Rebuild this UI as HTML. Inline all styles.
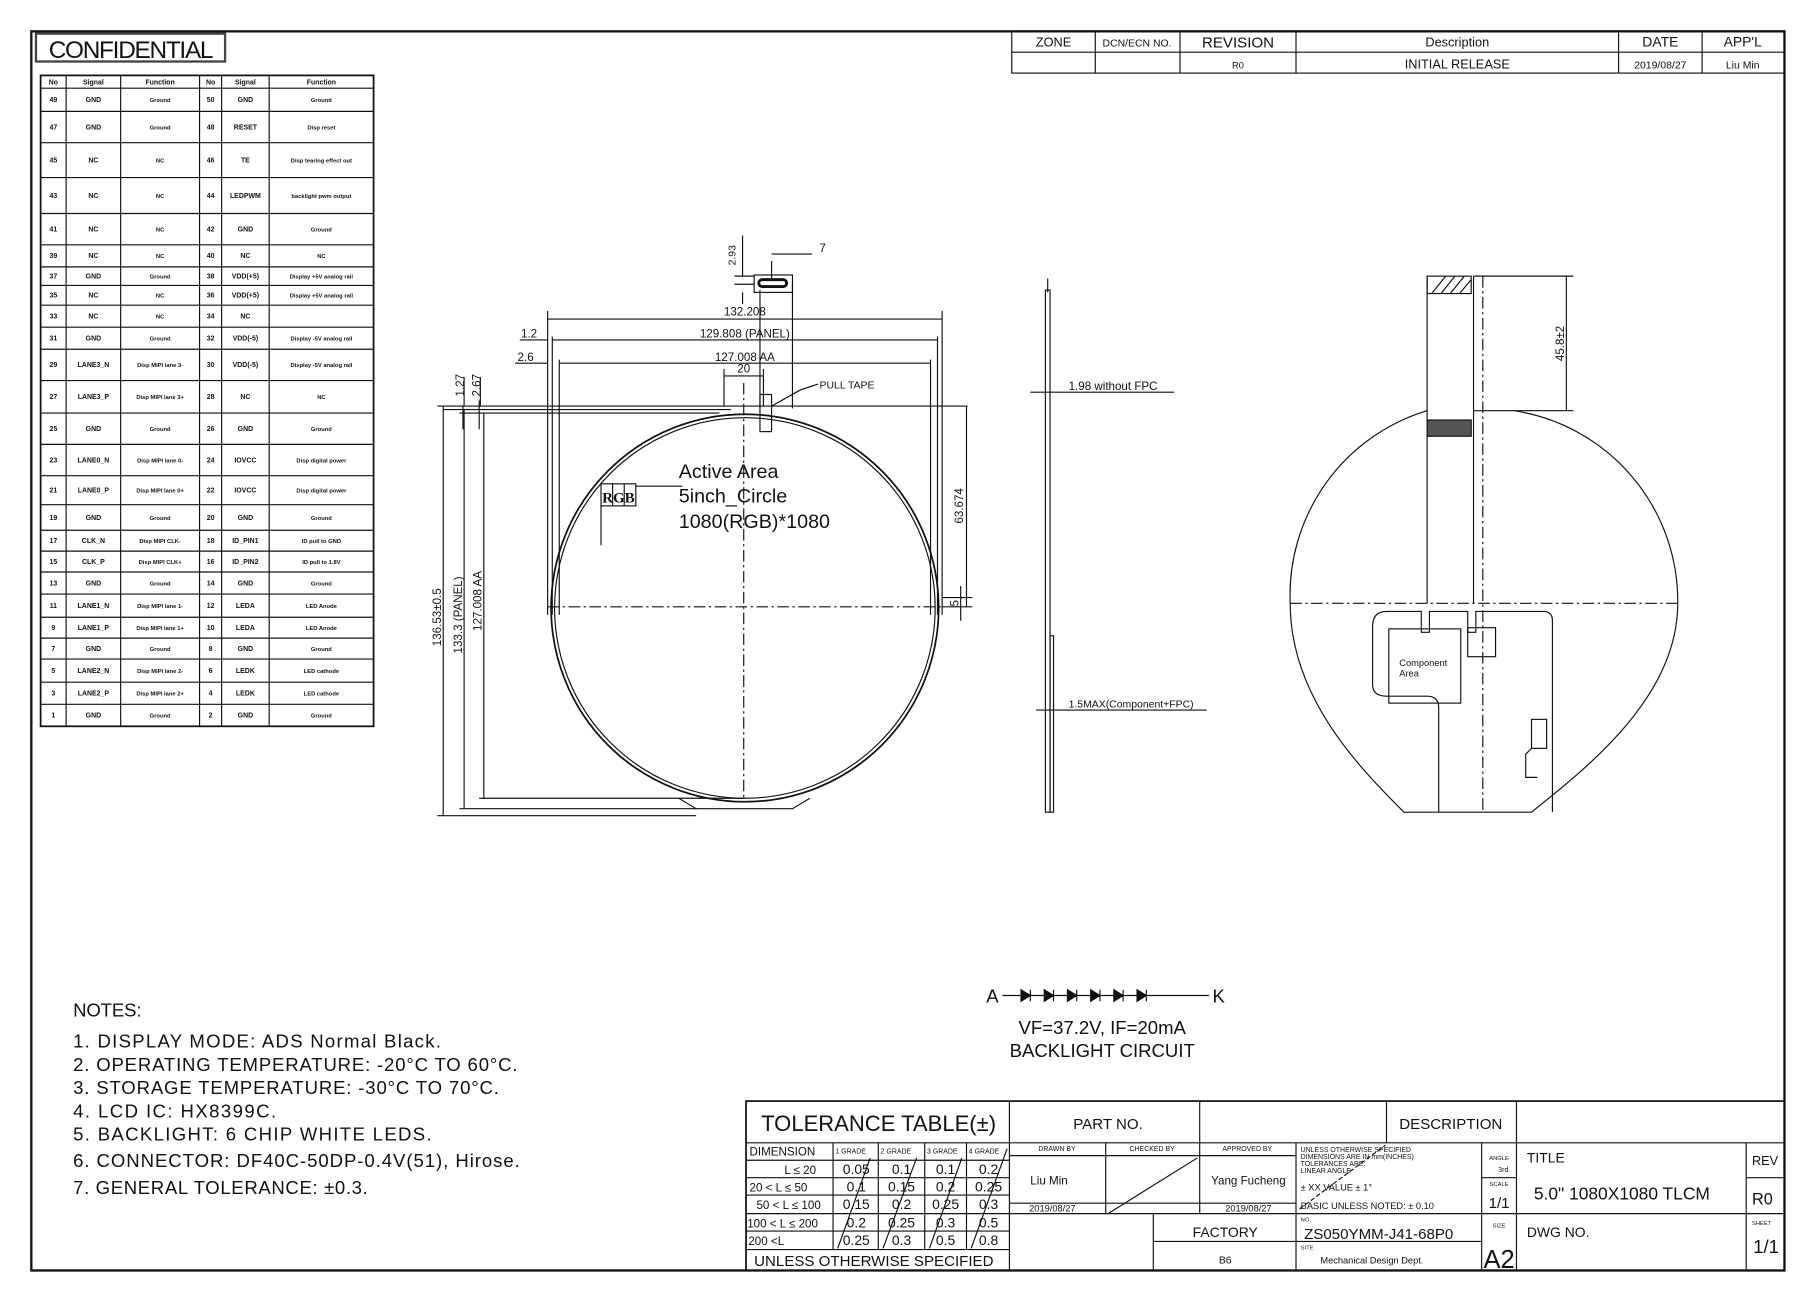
<!DOCTYPE html>
<html><head><meta charset="utf-8"><style>
html,body{margin:0;padding:0;background:#fff;width:1810px;height:1296px;overflow:hidden}
svg{display:block}
text{font-family:"Liberation Sans Narrow","Liberation Sans",sans-serif;fill:#111}
.b{font-weight:bold}
</style></head><body>
<svg id="s" width="1810" height="1296" viewBox="0 0 1560 1117" preserveAspectRatio="none" xmlns="http://www.w3.org/2000/svg">
<g fill="none" stroke="#111" stroke-width="1">
<rect x="27" y="27" width="1511" height="1068" stroke-width="2"/>
<rect x="31" y="29" width="163" height="24" stroke-width="2" stroke="#444"/>
<rect x="872" y="27" width="666" height="36"/>
<line x1="872" y1="45" x2="1538" y2="45"/>
<line x1="944" y1="27" x2="944" y2="63"/><line x1="1017" y1="27" x2="1017" y2="63"/>
<line x1="1117" y1="27" x2="1117" y2="63"/><line x1="1395" y1="27" x2="1395" y2="63"/>
<line x1="1467" y1="27" x2="1467" y2="63"/>
</g>
<g id="pins" stroke="#111" fill="none"></g>
<text x="42" y="50" font-size="21" textLength="142">CONFIDENTIAL</text>
<g font-size="11" text-anchor="middle">
<text x="908" y="40">ZONE</text><text x="980" y="40" font-size="9">DCN/ECN NO.</text><text x="1067" y="41" font-size="13" fill="#555">REVISION</text>
<text x="1256" y="40">Description</text><text x="1431" y="40" font-size="12">DATE</text><text x="1502" y="40" font-size="12" fill="#444">APP'L</text>
<text x="1067" y="59" font-size="8">R0</text><text x="1256" y="59">INITIAL RELEASE</text><text x="1431" y="59" font-size="9">2019/08/27</text><text x="1502" y="59" font-size="9">Liu Min</text>
</g>

<g fill="none" stroke="#111" stroke-width="1">
<circle cx="642" cy="524" r="167" stroke-width="1.5"/>
<circle cx="642" cy="524" r="164"/>
<path d="M585 688 L600 697 L683 697 L698 688"/>
<line x1="472" y1="268" x2="472" y2="530"/><line x1="812" y1="268" x2="812" y2="530"/>
<line x1="476" y1="290" x2="476" y2="530"/><line x1="808" y1="290" x2="808" y2="530"/>
<line x1="482" y1="310" x2="482" y2="530"/><line x1="802" y1="310" x2="802" y2="530"/>
<line x1="472" y1="275" x2="812" y2="275"/>
<line x1="476" y1="293" x2="808" y2="293"/>
<line x1="482" y1="313" x2="802" y2="313"/>
<line x1="448" y1="293" x2="472" y2="293"/><line x1="444" y1="313" x2="472" y2="313"/>
<line x1="624" y1="324" x2="658" y2="324"/><line x1="624" y1="318" x2="624" y2="350"/><line x1="658" y1="318" x2="658" y2="350"/>
<line x1="377" y1="350" x2="834" y2="350"/>
<line x1="382" y1="353" x2="630" y2="353"/>
<line x1="396" y1="356" x2="620" y2="356"/>
<line x1="399" y1="370" x2="399" y2="350" /><line x1="413" y1="370" x2="413" y2="345"/>
<line x1="400" y1="325" x2="400" y2="350"/><line x1="414" y1="325" x2="414" y2="350"/>
<line x1="382" y1="350" x2="382" y2="703"/>
<line x1="400" y1="353" x2="400" y2="697"/>
<line x1="417" y1="356" x2="417" y2="688"/>
<line x1="377" y1="703" x2="600" y2="703"/>
<line x1="396" y1="697" x2="600" y2="697"/>
<line x1="413" y1="688" x2="642" y2="688"/>
<line x1="833" y1="350" x2="833" y2="523"/>
<line x1="812" y1="523" x2="838" y2="523"/>
<line x1="812" y1="515" x2="838" y2="515"/>
<line x1="828" y1="505" x2="828" y2="535"/>
<line x1="472" y1="523" x2="812" y2="523" stroke-dasharray="10 3 2 3"/>
<line x1="641" y1="330" x2="641" y2="690" stroke-dasharray="10 3 2 3"/>
<rect x="655" y="340" width="10" height="32"/>
<path d="M665 350 L690 336 L705 331"/>
<line x1="655" y1="250" x2="655" y2="352"/><line x1="683" y1="245" x2="683" y2="352"/>
<rect x="650" y="237" width="33" height="15"/>
<rect x="654" y="241" width="24" height="6" rx="3" stroke-width="2.5"/>
<line x1="640" y1="203" x2="640" y2="238"/><line x1="640" y1="252" x2="640" y2="262"/>
<line x1="633" y1="238" x2="650" y2="238"/><line x1="633" y1="245" x2="650" y2="245"/>
<line x1="665" y1="225" x2="665" y2="240"/>
<line x1="665" y1="219" x2="700" y2="219"/>
<rect x="518" y="417" width="30" height="19"/>
<line x1="528" y1="417" x2="528" y2="436"/><line x1="538" y1="417" x2="538" y2="436"/>
<line x1="548" y1="419" x2="588" y2="419"/>
<line x1="518" y1="436" x2="518" y2="470"/>
</g>
<g font-size="10" text-anchor="middle">
<text x="642" y="272">132.208</text>
<text x="642" y="291">129.808 (PANEL)</text>
<text x="642" y="311">127.008 AA</text>
<text x="641" y="321">20</text>
<text x="456" y="291">1.2</text><text x="453" y="311">2.6</text>
<text x="709" y="217">7</text>
<text x="730" y="335" font-size="9">PULL TAPE</text>
<text transform="translate(634,220) rotate(-90)" font-size="9">2.93</text>
<text transform="translate(400,332) rotate(-90)">1.27</text>
<text transform="translate(414,332) rotate(-90)">2.67</text>
<text transform="translate(380,532) rotate(-90)">136.53±0.5</text>
<text transform="translate(398,530) rotate(-90)">133.3 (PANEL)</text>
<text transform="translate(415,518) rotate(-90)">127.008 AA</text>
<text transform="translate(830,436) rotate(-90)">63.674</text>
<text transform="translate(826,520) rotate(-90)">5</text>
</g>
<text x="533" y="433" font-size="13" text-anchor="middle" class="b" style="font-family:'Liberation Serif',serif">RGB</text>
<g font-size="17" fill="#333"><text x="585" y="412">Active Area</text><text x="585" y="433">5inch_Circle</text><text x="585" y="455">1080(RGB)*1080</text></g>

<g fill="none" stroke="#111">
<rect x="901" y="250" width="4" height="450"/>
<line x1="903" y1="240" x2="903" y2="252"/>
<rect x="905" y="548" width="3" height="152"/>
<line x1="888" y1="338" x2="1012" y2="338"/>
<line x1="893" y1="612" x2="1040" y2="612"/>
</g>
<text x="921" y="336" font-size="10">1.98 without FPC</text>
<text x="921" y="610" font-size="9">1.5MAX(Component+FPC)</text>

<g fill="none" stroke="#111">
<path d="M1230 354 A166 166 0 0 0 1112 520 C1112 600 1170 660 1210 700 L1320 700 C1370 660 1446 600 1446 520 A166 166 0 0 0 1305 354 L1270 354"/>
<line x1="1230" y1="238" x2="1230" y2="520"/><line x1="1270" y1="238" x2="1270" y2="520"/>
<rect x="1230" y="238" width="38" height="15"/>
<path d="M1234 253 L1246 238 M1242 253 L1254 238 M1250 253 L1262 238 M1258 253 L1268 241"/>
<rect x="1230" y="362" width="38" height="14" fill="#555"/>
<line x1="1270" y1="238" x2="1356" y2="238"/><line x1="1305" y1="354" x2="1356" y2="354"/>
<line x1="1350" y1="238" x2="1350" y2="354"/>
<line x1="1112" y1="520" x2="1446" y2="520" stroke-dasharray="10 3 2 3"/>
<line x1="1278" y1="238" x2="1278" y2="700" stroke-dasharray="10 3 2 3"/>
<path d="M1195 527 L1225 527 L1225 545 L1232 545 L1232 527 L1265 527 L1265 545 L1272 545 L1272 527 L1330 527 Q1338 527 1338 535 L1338 700 M1195 527 Q1183 527 1183 540 L1183 590 Q1183 600 1195 600 L1230 600 Q1240 600 1240 610 L1240 700"/>
<rect x="1197" y="542" width="62" height="64"/>
<rect x="1265" y="541" width="24" height="25"/>
<rect x="1320" y="620" width="13" height="25"/><path d="M1320 645 L1315 650 L1315 670 L1325 670"/>
</g>
<text x="1206" y="574" font-size="8">Component</text><text x="1206" y="583" font-size="8">Area</text>
<text transform="translate(1348,296) rotate(-90)" font-size="10" text-anchor="middle">45.8±2</text>

<g stroke="#111" fill="none">
<line x1="864" y1="858" x2="1042" y2="858"/>
<path d="M880 853 L888 858 L880 863 Z M888 853 V863 M900 853 L908 858 L900 863 Z M908 853 V863 M920 853 L928 858 L920 863 Z M928 853 V863 M940 853 L948 858 L940 863 Z M948 853 V863 M960 853 L968 858 L960 863 Z M968 853 V863 M980 853 L988 858 L980 863 Z M988 853 V863" fill="#111"/>
</g>
<text x="850" y="864" font-size="16" fill="#333">A</text><text x="1045" y="864" font-size="16" fill="#333">K</text>
<text x="950" y="891" font-size="16" text-anchor="middle" fill="#333">VF=37.2V, IF=20mA</text>
<text x="950" y="911" font-size="16" text-anchor="middle" fill="#333">BACKLIGHT CIRCUIT</text>

<g font-size="16" fill="#333">
<text x="63" y="876" textLength="59">NOTES:</text>
<text x="63" y="903" textLength="317">1. DISPLAY MODE: ADS Normal Black.</text>
<text x="63" y="923" textLength="383">2. OPERATING TEMPERATURE: -20°C TO 60°C.</text>
<text x="63" y="943" textLength="367">3. STORAGE TEMPERATURE: -30°C TO 70°C.</text>
<text x="63" y="963" textLength="175">4. LCD IC: HX8399C.</text>
<text x="63" y="983" textLength="309">5. BACKLIGHT: 6 CHIP WHITE LEDS.</text>
<text x="63" y="1006" textLength="385">6. CONNECTOR: DF40C-50DP-0.4V(51), Hirose.</text>
<text x="63" y="1029" textLength="254">7. GENERAL TOLERANCE: ±0.3.</text>
</g>

<g fill="none" stroke="#111">
<rect x="643" y="949" width="895" height="146" stroke-width="1.5"/>
<line x1="643" y1="985" x2="1538" y2="985"/>
<line x1="870" y1="949" x2="870" y2="1095"/>
<line x1="1034" y1="949" x2="1034" y2="1046"/><line x1="1195" y1="949" x2="1195" y2="985"/><line x1="1307" y1="949" x2="1307" y2="1095"/>
<line x1="643" y1="1000" x2="870" y2="1000"/><line x1="643" y1="1015" x2="870" y2="1015"/><line x1="643" y1="1030" x2="870" y2="1030"/>
<line x1="643" y1="1046" x2="1307" y2="1046"/><line x1="643" y1="1061" x2="870" y2="1061"/><line x1="643" y1="1077" x2="870" y2="1077"/>
<line x1="718" y1="985" x2="718" y2="1077"/><line x1="757" y1="985" x2="757" y2="1077"/><line x1="797" y1="985" x2="797" y2="1077"/><line x1="833" y1="985" x2="833" y2="1077"/>
<path d="M750 998 L722 1076 M790 998 L761 1076 M829 998 L801 1076 M868 990 L837 1076"/>
<line x1="953" y1="985" x2="953" y2="1046"/><line x1="1117" y1="985" x2="1117" y2="1095"/><line x1="1277" y1="985" x2="1277" y2="1095"/>
<line x1="870" y1="996" x2="1117" y2="996"/><line x1="870" y1="1037" x2="1117" y2="1037"/>
<line x1="955" y1="1046" x2="1032" y2="998"/><line x1="1120" y1="1042" x2="1194" y2="987" stroke-dasharray="4 2"/>
<line x1="994" y1="1046" x2="994" y2="1095"/><line x1="994" y1="1070" x2="1277" y2="1070"/>
<line x1="1277" y1="1015" x2="1307" y2="1015"/>
<line x1="1505" y1="985" x2="1505" y2="1095"/><line x1="1505" y1="1015" x2="1538" y2="1015"/>
<line x1="1307" y1="1046" x2="1538" y2="1046"/>
</g>
<g fill="#222">
<text x="656" y="975" font-size="19" fill="#333">TOLERANCE TABLE(±)</text>
<text x="925" y="973" font-size="13">PART NO.</text>
<text x="1206" y="973" font-size="13">DESCRIPTION</text>
<g font-size="10"><text x="646" y="996">DIMENSION</text></g>
<g font-size="6"><text x="720" y="994">1 GRADE</text><text x="759" y="994">2 GRADE</text><text x="799" y="994">3 GRADE</text><text x="835" y="994">4 GRADE</text></g>
<g font-size="10">
<text x="676" y="1012">L ≤ 20</text><text x="646" y="1027">20 &lt; L ≤ 50</text><text x="652" y="1042">50 &lt; L ≤ 100</text><text x="644" y="1058">100 &lt; L ≤ 200</text><text x="645" y="1073">200 &lt;L</text>
<g text-anchor="middle" font-size="12">
<text x="738" y="1012">0.05</text><text x="777" y="1012">0.1</text><text x="815" y="1012">0.1</text><text x="852" y="1012">0.2</text>
<text x="738" y="1027">0.1</text><text x="777" y="1027">0.15</text><text x="815" y="1027">0.2</text><text x="852" y="1027">0.25</text>
<text x="738" y="1042">0.15</text><text x="777" y="1042">0.2</text><text x="815" y="1042">0.25</text><text x="852" y="1042">0.3</text>
<text x="738" y="1058">0.2</text><text x="777" y="1058">0.25</text><text x="815" y="1058">0.3</text><text x="852" y="1058">0.5</text>
<text x="738" y="1073">0.25</text><text x="777" y="1073">0.3</text><text x="815" y="1073">0.5</text><text x="852" y="1073">0.8</text>
</g></g>
<text x="650" y="1091" font-size="13" fill="#333">UNLESS OTHERWISE SPECIFIED</text>
<g font-size="6" text-anchor="middle"><text x="911" y="992">DRAWN BY</text><text x="993" y="992">CHECKED BY</text><text x="1075" y="992">APPROVED BY</text></g>
<text x="888" y="1021" font-size="10">Liu Min</text><text x="1076" y="1021" font-size="10" text-anchor="middle">Yang Fucheng</text>
<text x="887" y="1044" font-size="8">2019/08/27</text><text x="1076" y="1044" font-size="8" text-anchor="middle">2019/08/27</text>
<g font-size="6"><text x="1121" y="993">UNLESS OTHERWISE SPECIFIED</text><text x="1121" y="999">DIMENSIONS ARE IN mm(INCHES)</text><text x="1121" y="1005">TOLERANCES ARE:</text><text x="1121" y="1011">LINEAR      ANGLE</text></g>
<text x="1121" y="1026" font-size="8">± XX  VALUE  ± 1°</text><text x="1121" y="1042" font-size="8">BASIC UNLESS NOTED:  ± 0.10</text>
<text x="1292" y="1000" font-size="5" text-anchor="middle">ANGLE</text><text x="1300" y="1010" font-size="6" text-anchor="end">3rd</text>
<text x="1292" y="1022" font-size="5" text-anchor="middle">SCALE</text><text x="1292" y="1041" font-size="13" text-anchor="middle">1/1</text>
<text x="1292" y="1058" font-size="5" text-anchor="middle">SIZE</text><text x="1292" y="1093" font-size="22" text-anchor="middle" fill="#444">A2</text>
<text x="1316" y="1002" font-size="12">TITLE</text>
<text x="1322" y="1034" font-size="15" fill="#333">5.0" 1080X1080 TLCM</text>
<text x="1510" y="1004" font-size="11">REV</text><text x="1510" y="1038" font-size="14">R0</text>
<text x="1316" y="1066" font-size="12">DWG NO.</text>
<text x="1510" y="1056" font-size="5">SHEET</text><text x="1511" y="1080" font-size="16">1/1</text>
<text x="1056" y="1066" font-size="12" text-anchor="middle">FACTORY</text><text x="1056" y="1089" font-size="9" text-anchor="middle">B6</text>
<text x="1121" y="1053" font-size="5">NO.</text><text x="1124" y="1068" font-size="13">ZS050YMM-J41-68P0</text>
<text x="1121" y="1077" font-size="5">SITE</text><text x="1138" y="1089" font-size="8">Mechanical Design Dept.</text>
</g>
</svg>
<script>
(function(){
var g=document.getElementById('pins'),ns='http://www.w3.org/2000/svg';
var ys=[65,76,96,123,153,184,211,230,246,263,282,301,328,356,383,410,435,457,475,493,512,532,550,568,588,607,626];
var xs=[35,57,104,172,191,232,322];
function el(t,a){var e=document.createElementNS(ns,t);for(var k in a)e.setAttribute(k,a[k]);g.appendChild(e);return e;}
el('rect',{x:35,y:65,width:287,height:561,'stroke-width':1.5});
ys.forEach(function(y){el('line',{x1:35,y1:y,x2:322,y2:y});});
xs.forEach(function(x){el('line',{x1:x,y1:65,x2:x,y2:626});});
var hdr=['No','Signal','Function','No','Signal','Function'];
var Ls=['GND','GND','NC','NC','NC','NC','GND','NC','NC','GND','LANE3_N','LANE3_P','GND','LANE0_N','LANE0_P','GND','CLK_N','CLK_P','GND','LANE1_N','LANE1_P','GND','LANE2_N','LANE2_P','GND'];
var Lf=['Ground','Ground','NC','NC','NC','NC','Ground','NC','NC','Ground','Disp MIPI lane 3-','Disp MIPI lane 3+','Ground','Disp MIPI lane 0-','Disp MIPI lane 0+','Ground','Disp MIPI CLK-','Disp MIPI CLK+','Ground','Disp MIPI lane 1-','Disp MIPI lane 1+','Ground','Disp MIPI lane 2-','Disp MIPI lane 2+','Ground'];
var Rs=['GND','RESET','TE','LEDPWM','GND','NC','VDD(+5)','VDD(+5)','NC','VDD(-5)','VDD(-5)','NC','GND','IOVCC','IOVCC','GND','ID_PIN1','ID_PIN2','GND','LEDA','LEDA','GND','LEDK','LEDK','GND'];
var Rf=['Ground','Disp reset','Disp tearing effect out','backlight pwm output','Ground','NC','Display +5V analog rail','Display +5V analog rail','','Display -5V analog rail','Display -5V analog rail','NC','Ground','Disp digital power','Disp digital power','Ground','ID pull to GND','ID pull to 1.8V','Ground','LED Anode','LED Anode','Ground','LED cathode','LED cathode','Ground'];
var g2=document.getElementById('s');
function tx(x,y,s,fs){var e=document.createElementNS(ns,'text');e.setAttribute('x',x);e.setAttribute('y',y);e.setAttribute('font-size',fs);e.setAttribute('text-anchor','middle');e.setAttribute('class','b');e.textContent=s;g2.appendChild(e);}
for(var c=0;c<6;c++)tx((xs[c]+xs[c+1])/2,73,hdr[c],6);
for(var i=0;i<25;i++){var y=(ys[i+1]+ys[i+2])/2+2;
 var row=[String(49-2*i),Ls[i],Lf[i],String(50-2*i),Rs[i],Rf[i]];
 for(var c=0;c<6;c++){tx((xs[c]+xs[c+1])/2,y,row[c],(c==2||c==5)?5:6);}
}
})();
</script>
</body></html>
